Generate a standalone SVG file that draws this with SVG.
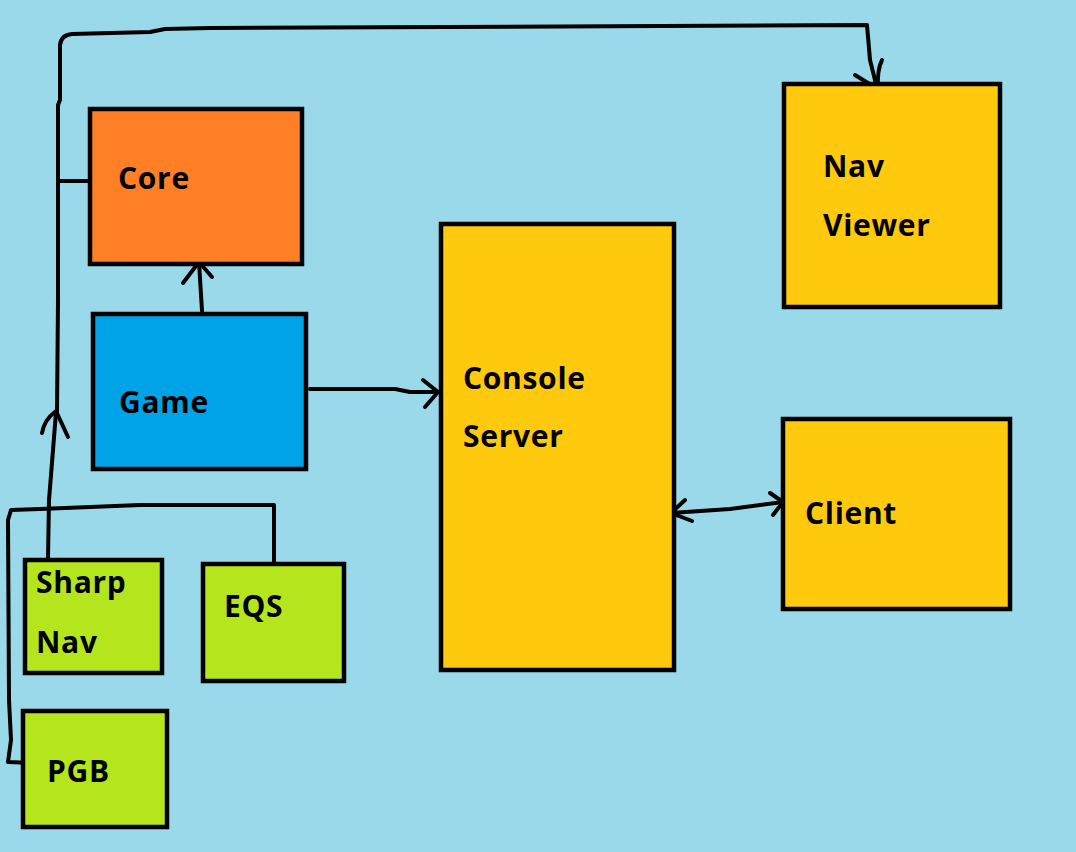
<svg xmlns="http://www.w3.org/2000/svg" width="1076" height="852" viewBox="0 0 1076 852">
<style>
.box{stroke:#000;stroke-width:4.5}
.core{fill:#FF7F27}.game{fill:#00A2E8}.yel{fill:#FFC90E}.lime{fill:#B5E61D}
text{font-family:"Open Sans","Noto Sans","DejaVu Sans",sans-serif;font-weight:bold;font-size:30px;letter-spacing:0.7px;fill:#000}
.c{fill:none;stroke:#000;stroke-width:4;stroke-linecap:round;stroke-linejoin:round}
</style>
<rect width="1076" height="852" fill="#99D9EA"/>
<g id="connectors">
<path class="c" d="M57,412 L58,300 L58,105 L60,100 L60,45 Q61,35 72,34 L150,32 L165,29 L210,28 L867,25 L870,60 L877,88"/>
<path class="c" d="M855,75 L876,88 M882,60 Q877,70 878,88"/>
<path class="c" d="M58,181 L88,181"/>
<path class="c" d="M48,558 L49,500 L53,450 L56,412"/>
<path class="c" d="M42,433 Q44,420 56,411 L68,437"/>
<path class="c" d="M274,562 L274,505 L140,505 L40,509 L11,510 L8,520 L9,700 L11,740 L8,762 L33,763 L34,760"/>
<path class="c" d="M202,311 L199,262"/>
<path class="c" d="M183,283 L199,262 L212,277"/>
<path class="c" d="M310,389 L395,389 L410,392 L438,392"/>
<path class="c" d="M423,380 L438,392 L425,407"/>
<path class="c" d="M671,513 L730,509 L783,502"/>
<path class="c" d="M685,500 L671,513 L692,521"/>
<path class="c" d="M770,493 L783,502 L773,515"/>
</g>
<g id="core"><rect class="box core" x="90" y="109" width="212" height="155"/><text x="118" y="189">Core</text></g>
<g id="game"><rect class="box game" x="93" y="314" width="213" height="155"/><text x="119" y="413">Game</text></g>
<g id="console-server"><rect class="box yel" x="441" y="224" width="233" height="446"/><text x="463" y="389">Console</text><text x="463" y="447">Server</text></g>
<g id="nav-viewer"><rect class="box yel" x="784" y="84" width="216" height="223"/><text x="823" y="177">Nav</text><text x="823" y="236">Viewer</text></g>
<g id="client"><rect class="box yel" x="783" y="419" width="227" height="190"/><text x="805" y="524">Client</text></g>
<g id="sharp-nav"><rect class="box lime" x="25" y="560" width="137" height="113"/><text x="36" y="593">Sharp</text><text x="36" y="653">Nav</text></g>
<g id="eqs"><rect class="box lime" x="203" y="564" width="141" height="117"/><text x="224" y="617">EQS</text></g>
<g id="pgb"><rect class="box lime" x="23" y="711" width="144" height="116"/><text x="47" y="782">PGB</text></g>
</svg>
